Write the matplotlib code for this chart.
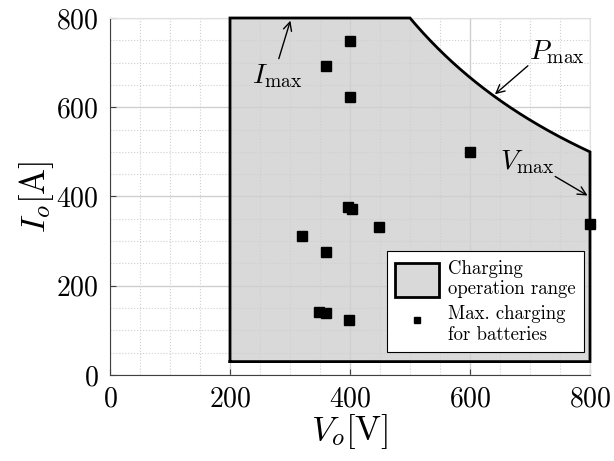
import numpy as np
import matplotlib
matplotlib.use("Agg")
import matplotlib.pyplot as plt
from matplotlib.patches import Patch
from matplotlib.lines import Line2D

plt.rcParams['mathtext.fontset'] = 'cm'
plt.rcParams['font.family'] = ['cmr10', 'DejaVu Serif']
plt.rcParams['axes.formatter.use_mathtext'] = True

# Operating range limits
V_min, V_max = 200, 800      # V
I_min, I_max = 30, 800       # A
P_max = 400000               # W

# Battery max charging points
bat_V = [400, 360, 400, 600, 396, 404, 449, 320, 360, 800, 349, 360, 399]
bat_I = [749, 693, 624, 500, 377, 371, 332, 312, 276, 338, 142, 140, 123]

xticks = [0, 200, 400, 600, 800]
yticks = [0, 200, 400, 600, 800]

fig = plt.figure(figsize=(6.14, 4.61), dpi=100)
ax = fig.add_axes([110/614, 86/461, 480/614, 357/461])

V_knee = P_max / I_max
Vc = np.linspace(V_knee, V_max, 200)
Ic = P_max / Vc
px = [V_min, V_min, V_knee] + list(Vc) + [V_max, V_max, V_min]
py = [I_min, I_max, I_max] + list(Ic) + [P_max / V_max, I_min, I_min]

ax.fill(px, py, facecolor='#d9d9d9', edgecolor='none', zorder=0.2)
ax.plot(px, py, color='black', linewidth=2, zorder=3, clip_on=False,
        solid_joinstyle='miter')
ax.plot(bat_V, bat_I, 's', color='black', markersize=7.5, zorder=4, clip_on=False)

ax.set_xlim(0, 800)
ax.set_ylim(0, 800)
ax.set_xticks(xticks)
ax.set_yticks(yticks)
ax.set_xticks(np.arange(0, 801, 50), minor=True)
ax.set_yticks(np.arange(0, 801, 50), minor=True)
ax.set_axisbelow(True)
ax.grid(which='major', color='#cfcfcf', linewidth=1)
ax.grid(which='minor', color='#cfcfcf', linestyle=':', linewidth=0.8)
ax.tick_params(which='major', direction='in', length=4, labelsize=20, pad=8,
               color='#404040')
ax.tick_params(which='minor', length=0)
for s in ['top', 'right']:
    ax.spines[s].set_color('#e0e0e0')
for s in ['left', 'bottom']:
    ax.spines[s].set_color('#404040')

ax.set_xlabel(r'$V_o[\mathrm{V}]$', fontsize=25, labelpad=0)
ax.set_ylabel(r'$I_o[\mathrm{A}]$', fontsize=25, labelpad=0)

ap = dict(arrowstyle='->', color='black', lw=1, mutation_scale=15)
ax.text(278, 669, r'$I_{\mathrm{max}}$', fontsize=20, ha='center', va='center', zorder=5)
ax.annotate('', xy=(302, 800), xytext=(280, 703), arrowprops=ap, zorder=5)
ax.text(745, 724, r'$P_{\mathrm{max}}$', fontsize=20, ha='center', va='center', zorder=5)
ax.annotate('', xy=(638, 625), xytext=(700, 697), arrowprops=ap, zorder=5)
ax.text(695, 477, r'$V_{\mathrm{max}}$', fontsize=20, ha='center', va='center', zorder=5)
ax.annotate('', xy=(800, 399), xytext=(738, 448), arrowprops=ap, zorder=5)

handles = [Patch(facecolor='#d9d9d9', edgecolor='black', linewidth=2),
           Line2D([], [], marker='s', color='black', linestyle='none', markersize=5)]
labels = ['Charging\noperation range', 'Max. charging\nfor batteries']
leg = ax.legend(handles, labels, loc='lower left', bbox_to_anchor=(0.577, 0.064),
                fontsize=13.5, frameon=True, fancybox=False, framealpha=1,
                edgecolor='black', borderpad=0.45, handlelength=2.3, handleheight=2.4,
                handletextpad=0.5, labelspacing=0.35, borderaxespad=0)
leg.get_frame().set_linewidth(0.8)
leg.set_zorder(6)

fig.savefig('out.png', dpi=100)
